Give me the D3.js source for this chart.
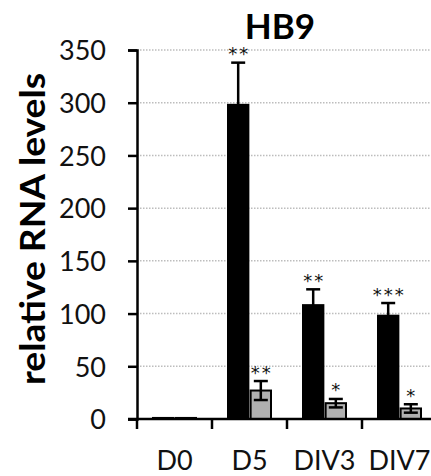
<!DOCTYPE html>
<html>
<head>
<meta charset="utf-8">
<script src="https://cdn.jsdelivr.net/npm/d3@7"></script>
<style>
  body { margin: 0; background: #fff; }
  text { font-family: Lato, "Open Sans", sans-serif; }
</style>
</head>
<body>
<svg></svg>
<script>
// data
let categories = ["D0", "D5", "DIV3", "DIV7"];
let series = ["black", "gray"];
let blackValues = [1, 298, 108, 98];
let blackErrors = [0, 40, 15, 12];
let blackStars = ["", "**", "**", "***"];
let grayValues = [1, 27, 15, 10];
let grayErrors = [0, 9, 4, 4];
let grayStars = ["", "**", "*", "*"];
let yTicks = [0, 50, 100, 150, 200, 250, 300, 350];

let width = 431;
let height = 476;

let svg = d3.select("svg").attr("width", width).attr("height", height);

let yScale = d3.scaleLinear().domain([0, 350]).range([419, 50]);
let xScale = d3.scaleBand().domain(categories).range([137, 437]);
let subScale = d3.scaleBand().domain(series).range([16, 59]).paddingInner(0.1);

let rows = [];
categories.forEach((c, i) => {
  rows.push({ cat: c, s: "black", v: blackValues[i], e: blackErrors[i], star: blackStars[i] });
  rows.push({ cat: c, s: "gray", v: grayValues[i], e: grayErrors[i], star: grayStars[i] });
});

let barX = (d) => xScale(d.cat) + subScale(d.s);
let barMid = (d) => barX(d) + subScale.bandwidth() / 2;

// grid
svg
  .append("g")
  .selectAll("line")
  .data(yTicks.filter((t) => t > 0))
  .enter()
  .append("line")
  .attr("x1", 137)
  .attr("x2", width)
  .attr("y1", (t) => yScale(t))
  .attr("y2", (t) => yScale(t))
  .attr("stroke", "#bdbdbd")
  .attr("stroke-width", 1.5)
  .attr("stroke-dasharray", "1.5,1.5");

// bars
svg
  .append("g")
  .selectAll("rect")
  .data(rows)
  .enter()
  .append("rect")
  .attr("x", barX)
  .attr("width", subScale.bandwidth())
  .attr("y", (d) => yScale(d.v))
  .attr("height", (d) => yScale(0) - yScale(d.v))
  .attr("fill", (d) => (d.s == "black" ? "#000" : "#b0b0b0"))
  .attr("stroke", "#000")
  .attr("stroke-width", 2);

// error bars
let err = svg.append("g").selectAll("g").data(rows.filter((d) => d.e > 0)).enter().append("g");
err
  .append("line")
  .attr("x1", barMid)
  .attr("x2", barMid)
  .attr("y1", (d) => yScale(d.v - d.e))
  .attr("y2", (d) => yScale(d.v + d.e))
  .attr("stroke", "#000")
  .attr("stroke-width", 2.5);
err
  .append("line")
  .attr("x1", (d) => barMid(d) - 7)
  .attr("x2", (d) => barMid(d) + 7)
  .attr("y1", (d) => yScale(d.v + d.e))
  .attr("y2", (d) => yScale(d.v + d.e))
  .attr("stroke", "#000")
  .attr("stroke-width", 2.5);
err
  .append("line")
  .attr("x1", (d) => barMid(d) - 7)
  .attr("x2", (d) => barMid(d) + 7)
  .attr("y1", (d) => yScale(d.v - d.e))
  .attr("y2", (d) => yScale(d.v - d.e))
  .attr("stroke", "#000")
  .attr("stroke-width", 2.5);

// stars
svg
  .append("g")
  .selectAll("text")
  .data(rows.filter((d) => d.star))
  .enter()
  .append("text")
  .attr("x", (d) => barMid(d) + 1)
  .attr("y", (d) => yScale(d.v + d.e) - 2.5)
  .attr("text-anchor", "middle")
  .style("font-family", "'DejaVu Sans', sans-serif")
  .attr("font-size", 18)
  .attr("letter-spacing", 2)
  .attr("fill", "#111")
  .text((d) => d.star);

// axes
let yAxis = d3.axisLeft(yScale).tickValues(yTicks).tickSize(9).tickPadding(22);
let gy = svg.append("g").attr("transform", "translate(137,0)").call(yAxis);
gy.selectAll("path, line").attr("stroke", "#000").attr("stroke-width", 2.5);
gy.selectAll("text").attr("font-size", 27).attr("fill", "#111").attr("dy", "0.36em");

let xAxis = d3.axisBottom(xScale).tickSize(0).tickPadding(32);
let gx = svg.append("g").attr("transform", "translate(0,419)").call(xAxis);
gx.select("path").attr("d", "M128,0H" + width).attr("stroke", "#000").attr("stroke-width", 2.5);
gx.selectAll("text").attr("font-size", 27).attr("fill", "#111");

// category boundary ticks
svg
  .append("g")
  .selectAll("line")
  .data(categories)
  .enter()
  .append("line")
  .attr("x1", (c) => xScale(c))
  .attr("x2", (c) => xScale(c))
  .attr("y1", 419)
  .attr("y2", 429)
  .attr("stroke", "#000")
  .attr("stroke-width", 2.5);

// title
svg
  .append("text")
  .attr("x", 280)
  .attr("y", 39)
  .attr("text-anchor", "middle")
  .attr("font-size", 35)
  .attr("font-weight", "bold")
  .text("HB9");

// y label
svg
  .append("text")
  .attr("transform", "translate(45,229) rotate(-90)")
  .attr("text-anchor", "middle")
  .attr("font-size", 34)
  .attr("font-weight", "bold")
  .attr("textLength", 312)
  .attr("lengthAdjust", "spacingAndGlyphs")
  .text("relative RNA levels");
</script>
</body>
</html>
